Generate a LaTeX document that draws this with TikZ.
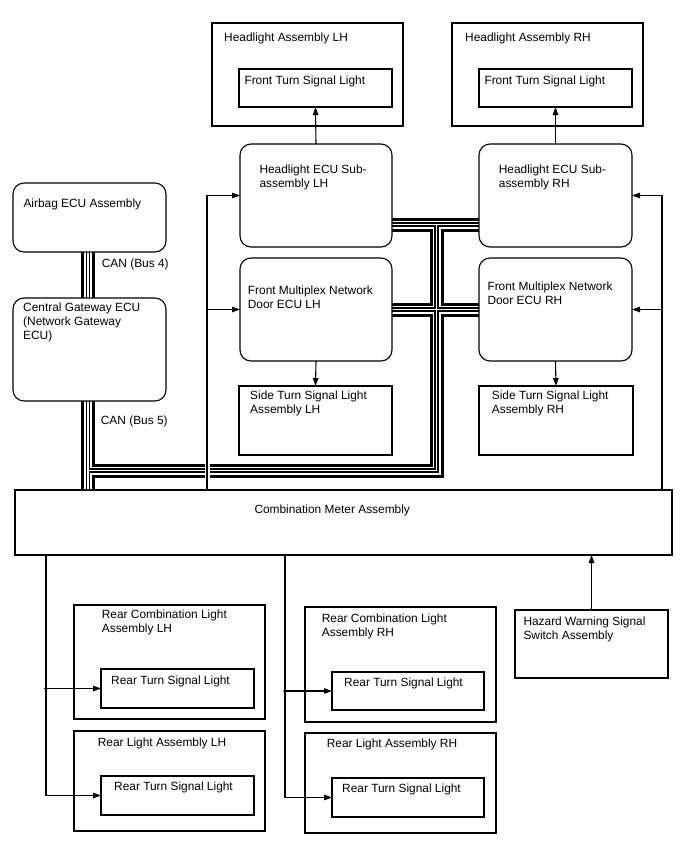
\documentclass[tikz,border=0pt]{standalone}
\usepackage{fontspec}
\setmainfont{Liberation Sans}
\usetikzlibrary{arrows.meta,backgrounds}
\tikzset{
  blk/.style={draw,line width=1.1pt,fill=white,anchor=north west,inner sep=0pt,outer sep=0pt},
  ecu/.style={blk,rounded corners=11pt},
  txt/.style={anchor=north west,inner sep=0pt,align=left},
  sig/.style={line width=1.1pt,-{Triangle[length=8pt,width=5.5pt]}}
}

\begin{document}
\begin{tikzpicture}[x=1pt,y=-1pt,font=\fontsize{11.9}{14}\selectfont]
  \useasboundingbox (0,0) rectangle (688,852);
  % front lights and ECUs
  \node[blk,minimum width=191pt,minimum height=103pt] (haL) at (212,23) {};
  \node[blk,minimum width=153pt,minimum height=38pt] (ftslL) at (239,69) {};
  \node[blk,minimum width=191pt,minimum height=103pt] (haR) at (452,23) {};
  \node[blk,minimum width=153pt,minimum height=38pt] (ftslR) at (479,69) {};
  \node[ecu,minimum width=152pt,minimum height=103pt] (hecuL) at (240,144) {};
  \node[ecu,minimum width=153pt,minimum height=103pt] (hecuR) at (479,144) {};
  \node[ecu,minimum width=152pt,minimum height=103pt] (fmdL) at (240,258) {};
  \node[ecu,minimum width=153pt,minimum height=103pt] (fmdR) at (479,258) {};
  \node[blk,minimum width=153pt,minimum height=69pt] (stslL) at (239,386) {};
  \node[blk,minimum width=154pt,minimum height=69pt] (stslR) at (479,386) {};
  % gateway side
  \node[ecu,minimum width=153pt,minimum height=69pt] (airbag) at (13,183) {};
  \node[ecu,minimum width=153pt,minimum height=103pt] (gateway) at (13,298) {};
  \node[blk,minimum width=657pt,minimum height=65pt] (meter) at (15,490) {};
  \node[blk,minimum width=153pt,minimum height=68pt] (hazard) at (515,610) {};
  % rear lights
  \node[blk,minimum width=191pt,minimum height=114pt] (rclL) at (74,605) {};
  \node[blk,minimum width=153pt,minimum height=39pt] (rtsl1L) at (101,669) {};
  \node[blk,minimum width=191pt,minimum height=100pt] (rlaL) at (74,731) {};
  \node[blk,minimum width=153pt,minimum height=39pt] (rtsl2L) at (101,776) {};
  \node[blk,minimum width=191pt,minimum height=115pt] (rclR) at (305,607) {};
  \node[blk,minimum width=152pt,minimum height=38pt] (rtsl1R) at (332,672) {};
  \node[blk,minimum width=191pt,minimum height=100pt] (rlaR) at (305,733) {};
  \node[blk,minimum width=152pt,minimum height=39pt] (rtsl2R) at (332,778) {};

  % labels
  \node[txt] (lhaL) at (224,32.3) {Headlight Assembly LH};
  \node[txt] (lftslL) at (244.3,75.3) {Front Turn Signal Light};
  \node[txt] (lhaR) at (465,32.3) {Headlight Assembly RH};
  \node[txt] (lftslR) at (484.3,75.3) {Front Turn Signal Light};
  \node[txt] (lhecuL) at (259.3,164.8) {Headlight ECU Sub-\\assembly LH};
  \node[txt] (lhecuR) at (498.7,164.8) {Headlight ECU Sub-\\assembly RH};
  \node[txt] (lfmdL) at (247.7,285.3) {Front Multiplex Network\\Door ECU LH};
  \node[txt] (lfmdR) at (487.3,281.3) {Front Multiplex Network\\Door ECU RH};
  \node[txt] (lstslL) at (250,390.6) {Side Turn Signal Light\\Assembly LH};
  \node[txt] (lstslR) at (491.7,390.6) {Side Turn Signal Light\\Assembly RH};
  \node[txt] (lairbag) at (23.3,199) {Airbag ECU Assembly};
  \node[txt] (lgateway) at (23,303) {Central Gateway ECU\\(Network Gateway\\ECU)};
  \node[txt] (lcan4) at (101.7,259) {CAN (Bus 4)};
  \node[txt] (lcan5) at (100.7,415.6) {CAN (Bus 5)};
  \node[txt] (lmeter) at (254.3,504.9) {Combination Meter Assembly};
  \node[txt] (lhazard) at (523.3,616.3) {Hazard Warning Signal\\Switch Assembly};
  \node[txt] (lrclL) at (101.7,610) {Rear Combination Light\\Assembly LH};
  \node[txt] (lrtsl1L) at (111,675.3) {Rear Turn Signal Light};
  \node[txt] (lrlaL) at (97.7,737.6) {Rear Light Assembly LH};
  \node[txt] (lrtsl2L) at (114,781.3) {Rear Turn Signal Light};
  \node[txt] (lrclR) at (321.7,613.3) {Rear Combination Light\\Assembly RH};
  \node[txt] (lrtsl1R) at (344,677.3) {Rear Turn Signal Light};
  \node[txt] (lrlaR) at (326.7,739) {Rear Light Assembly RH};
  \node[txt] (lrtsl2R) at (342,783.6) {Rear Turn Signal Light};

  % CAN buses
  \coordinate (busL) at (88,0);
  \coordinate (tapT) at (436.5,224.5);
  \coordinate (tapB) at (436.5,470.5);
  \begin{scope}[on background layer]
    \foreach \w/\c in {14/black,8/white,4.4/black,1.8/white}{
      \draw[line width=\w pt,\c] (airbag.south -| busL) -- (gateway.north -| busL);
      \draw[line width=\w pt,\c] (gateway.south -| busL) -- (meter.north -| busL);
      \draw[line width=\w pt,\c] (busL |- tapB) -- (tapB) -- (tapT);
      \draw[line width=\w pt,\c] (hecuL.east |- tapT) -- (hecuR.west |- tapT);
      \draw[line width=\w pt,\c] (fmdL.east) -- (fmdR.west);
    }
    \fill[white] (204.5,462) rectangle (209.5,479);
  \end{scope}

  % signal lines
  \coordinate (mL) at (207,490);
  \coordinate (mR) at (662,490);
  \draw[sig] (mL) |- (hecuL.west);
  \draw[sig] (mL) |- (fmdL.west);
  \draw[sig] (mR) |- (hecuR.east);
  \draw[sig] (mR) |- (fmdR.east);
  \draw[sig] (hecuL.north) -- (ftslL.south);
  \draw[sig] (hecuR.north) -- (ftslR.south);
  \draw[sig] (fmdL.south) -- (stslL.north);
  \draw[sig] (fmdR.south) -- (stslR.north);
  \draw[sig] (hazard.north) -- (hazard.north |- meter.south);
  \coordinate (rL) at (46,555);
  \coordinate (rR) at (285,555);
  \draw[sig] (rL) |- (rtsl2L.west);
  \draw[sig] (rL |- rtsl1L.west) -- (rtsl1L.west);
  \fill (rL |- rtsl1L.west) circle (1.8);
  \draw[sig] (rR) |- (rtsl2R.west);
  \draw[sig] (rR |- rtsl1R.west) -- (rtsl1R.west);
  \fill (rR |- rtsl1R.west) circle (1.8);
\end{tikzpicture}
\end{document}
